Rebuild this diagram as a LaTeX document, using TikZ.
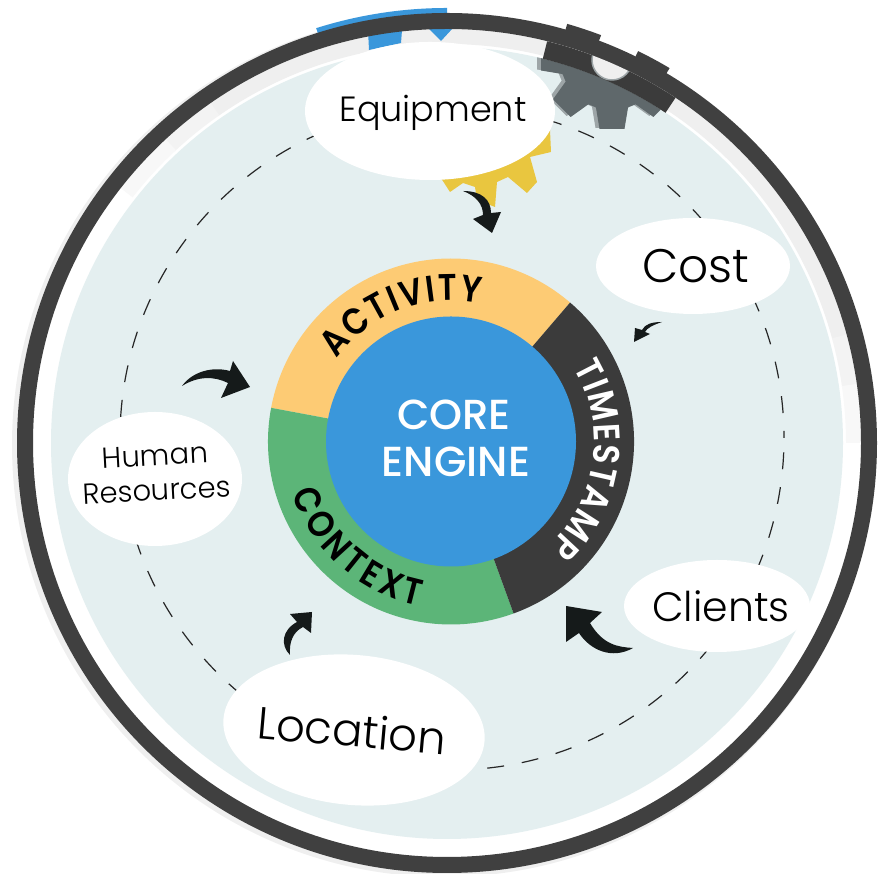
\documentclass[tikz,border=0pt]{standalone}
\usepackage{fontspec}
\setmainfont{Poppins}
\newfontfamily\lightf[UprightFont=* Light]{Poppins}
\newfontfamily\medf[UprightFont=* Medium]{Poppins}
\newfontfamily\semif[UprightFont=* SemiBold,FakeStretch=0.88]{Poppins}
\usetikzlibrary{decorations.text}
\definecolor{ringc}{HTML}{404040}
\definecolor{discc}{HTML}{E4EFF0}
\definecolor{bandc}{HTML}{EFEFEF}
\definecolor{gearc}{HTML}{5F686B}
\definecolor{gearl}{HTML}{9DA5A7}
\definecolor{yellowg}{HTML}{E9C63F}
\definecolor{blueg}{HTML}{3A97DB}
\definecolor{yellowc}{HTML}{FDCB74}
\definecolor{greenc}{HTML}{5CB578}
\definecolor{darkc}{HTML}{3B3B3B}
\definecolor{arrowc}{HTML}{151A1A}
\newcommand{\fs}[1]{\fontsize{#1}{#1}\selectfont}
\newcommand{\gearpath}{(612+52,816)
  \foreach \a in {0,45,...,315}{ -- ++(0,0) -- ({612+52*cos(\a-18)},{816+52*sin(\a-18)}) -- ({612+72*cos(\a-10)},{816+72*sin(\a-10)}) -- ({612+72*cos(\a+10)},{816+72*sin(\a+10)}) -- ({612+52*cos(\a+18)},{816+52*sin(\a+18)}) } -- cycle}
\newcommand{\bandseg}[3]{\fill[bandc!#3!white] (o) ++(#1:414) arc[start angle=#1,end angle=#2,radius=414]
   -- ++(#2:-15) arc[start angle=#2,end angle=#1,radius=399] -- cycle;}
\tikzset{
  x=1pt,y=1pt,
  label text/.style={inner sep=0pt,align=center,text=black},
  swoosh/.style={fill=arrowc},
  arctext/.style={decorate,decoration={text along path,text align={fit to path},text={#1}}},
}
\begin{document}
\begin{tikzpicture}
\useasboundingbox (0,0) rectangle (878,874);
\coordinate (o) at (447,431);
\coordinate (c) at (451,432.5);
\coordinate (d) at (452,436);
% shadow, band, disc
\fill[bandc] (444,429) circle[radius=432];
\fill[white] (o) circle[radius=420];
\bandseg{15}{125}{100}
\bandseg{8}{15.2}{75}
\bandseg{0}{8.2}{45}
\bandseg{124.8}{133}{75}
\bandseg{132.8}{142}{45}
\fill[discc] (o) circle[radius=396];
% gear
\begin{scope}
  \clip (o) circle[radius=396];
  \fill[gearl] [xshift=-4pt,yshift=1pt] \gearpath;
  \fill[gearc] \gearpath;
\end{scope}
\begin{scope}
  \clip (o) circle[radius=414];
  \fill[darkc] (o) ++(56.5:414) arc[start angle=56.5,end angle=76,radius=414]
       -- ++(76:-18) arc[start angle=76,end angle=56.5,radius=396] -- cycle;
  \fill[bandc,draw=gearl,line width=1.5pt] (612,814) circle[radius=20];
\end{scope}
\begin{scope}[y=-1pt,yshift=874pt]
  \fill[yellowg] (550,130)--(551,152)--(530,157)--(537,182)--(527,193)--(508,177)--(497,182)--(495,207)--(477,200)--(475,187)--(463,183)--(450,192)--(439,175)--cycle;
  \fill[blueg] (368,30)--(402,30)--(401,43)--(369,50)--cycle;
  \fill[blueg] (428,28)--(453,28)--(441,41)--cycle;
\end{scope}
\fill[blueg] (o) ++(90:429) arc[start angle=90,end angle=107.5,radius=429]
   -- ++(107.5:6) arc[start angle=107.5,end angle=90,radius=435] -- cycle;
% dashed orbit
\draw[black!85,line width=1.2pt,dash pattern=on 17pt off 18pt,dash phase=10pt] (d) circle[radius=332];
% outer ring
\draw[ringc,line width=16pt] (o) circle[radius=422];
\fill[ringc] (o) ++(69.3:429) arc[start angle=69.3,end angle=74,radius=429]
   -- ++(74:7) arc[start angle=74,end angle=69.3,radius=436] -- cycle;
\fill[ringc] (o) ++(59.3:429) arc[start angle=59.3,end angle=64,radius=429]
   -- ++(64:7) arc[start angle=64,end angle=59.3,radius=436] -- cycle;
% core wheel
\fill[yellowc] (c) -- ++(49.4:183) arc[start angle=49.4,end angle=169.4,radius=183] -- cycle;
\fill[greenc] (c) -- ++(169.4:183) arc[start angle=169.4,end angle=290,radius=183] -- cycle;
\fill[darkc] (c) -- ++(290:183) arc[start angle=290,end angle=409.4,radius=183] -- cycle;
\fill[blueg] (c) circle[radius=125];
\node[inner sep=0pt,text=white] (coretop) at (454,459) {\medf\fs{42}CORE};
\node[inner sep=0pt,text=white] (corebot) at (456,412) {\medf\fs{42}ENGINE};
\path[arctext={|\semif\fs{37}|ACTIVITY}] (c) ++(144:141) arc[start angle=144,end angle=78,radius=141];
\path[arctext={|\semif\fs{37}\color{white}|TIMESTAMP}] (c) ++(31:143) arc[start angle=31,end angle=-47,radius=143];
\path[arctext={|\semif\fs{37}|CONTEXT}] (c) ++(198:167) arc[start angle=198,end angle=259,radius=167];
% bubbles
\fill[white] (430,763) ellipse[x radius=125,y radius=69];
\fill[white] (693,608) ellipse[x radius=97,y radius=48];
\fill[white] (717,268) ellipse[x radius=93,y radius=46];
\fill[white] (155,395) ellipse[x radius=87,y radius=67];
\fill[white,rotate around={-5:(354,144)}] (354,144) ellipse[x radius=131,y radius=75];
\node[label text] (equipment) at (433,761) {\lightf\fs{35}Equipment};
\node[label text] (cost) at (696,608) {\lightf\fs{47}Cost};
\node[label text] (clients) at (721,268) {\lightf\fs{41}Clients};
\node[label text,rotate=3] (human) at (156,401) {\lightf\fs{29}Human\\[13pt]\lightf\fs{29}Resources};
\node[label text,rotate=-5] (location) at (352,144) {\lightf\fs{45}Location};
% arrows
\begin{scope}[y=-1pt,yshift=874pt]
  \fill[swoosh] (463,191) .. controls (482,191) and (491,200) .. (491,213) -- (501,212) -- (492,233) -- (473,219) -- (483,215) .. controls (483,204) and (476,196) .. (463,191) -- cycle;
  \fill[swoosh] (662,322) .. controls (652,322) and (645,324) .. (642,330) -- (635,328) -- (634,342) -- (650,334) -- (645,332) .. controls (647,328) and (653,325) .. (662,322) -- cycle;
  \fill[swoosh] (182,386) .. controls (192,372) and (212,366) .. (230,371) -- (233,361) -- (250,387) -- (221,398) -- (228,383) .. controls (214,376) and (198,376) .. (182,386) -- cycle;
  \fill[swoosh] (633,648) .. controls (618,647) and (603,645) .. (590,623) -- (602,612) -- (566,606) -- (566,642) -- (579,633) .. controls (590,650) and (612,660) .. (633,648) -- cycle;
  \fill[swoosh] (290,655) .. controls (280,645) and (282,630) .. (297,622) -- (290,614) -- (312,612) -- (311,633) -- (303,627) .. controls (293,632) and (289,642) .. (290,655) -- cycle;
\end{scope}
\end{tikzpicture}
\end{document}
